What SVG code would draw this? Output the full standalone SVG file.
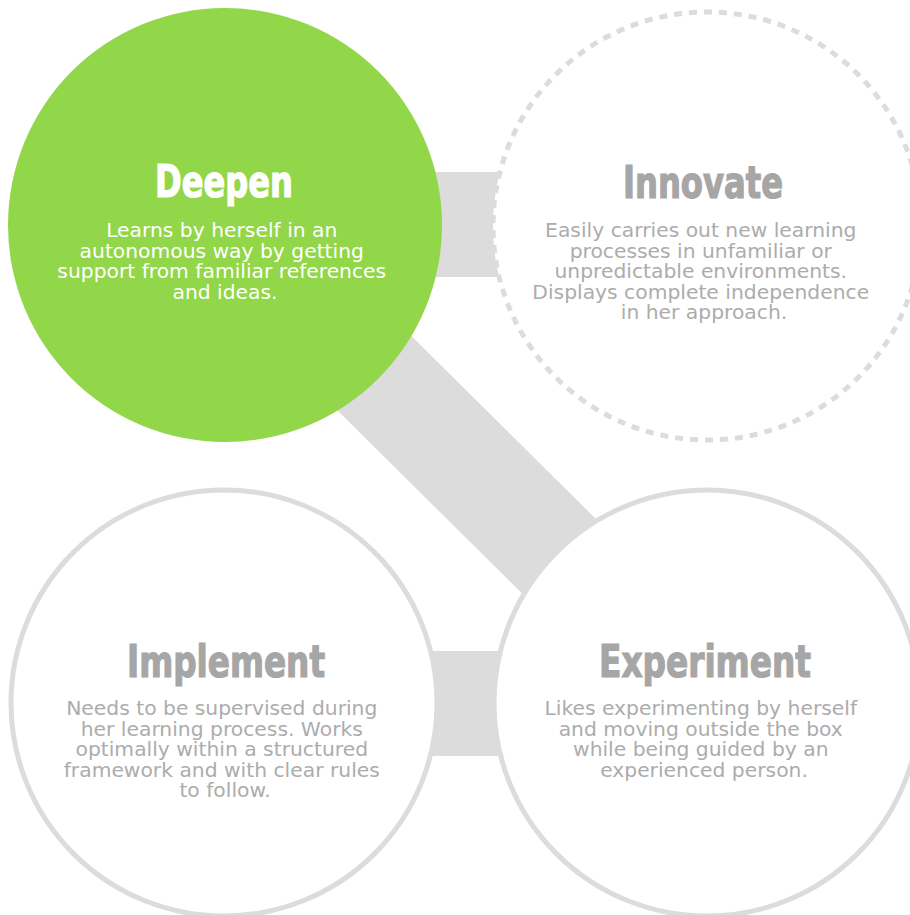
<svg xmlns="http://www.w3.org/2000/svg" width="910" height="915" viewBox="0 0 910 915">
  <style>
    .band { fill: #dcdcdc; }
    .ring { fill: #ffffff; stroke: #dcdcdc; stroke-width: 5; }
    .dashed { fill: #ffffff; stroke: #dcdcdc; stroke-width: 5; stroke-dasharray: 8 7; }
    .active { fill: #92d64a; }
    .title { font-family: "DejaVu Sans Condensed", "Liberation Sans", sans-serif; font-stretch: condensed; font-weight: bold; font-size: 45px; text-anchor: middle; fill: #a6a6a6; stroke: #a6a6a6; stroke-width: 1.2; }
    .body { font-family: "DejaVu Sans", "Liberation Sans", sans-serif; font-size: 20.3px; text-anchor: middle; fill: #acacac; }
    .light { fill: #ffffff; stroke: #ffffff; }
    .lightbody { fill: #ffffff; }
  </style>

  <!-- connectors between the stages -->
  <g id="connectors">
    <rect class="band" x="420" y="172" width="100" height="105"/>
    <rect class="band" x="420" y="651" width="100" height="105"/>
    <polygon class="band" points="262.1,187.9 744.1,665.9 669.9,740.1 187.9,262.1"/>
  </g>

  <g id="deepen">
    <circle class="active" cx="225" cy="225" r="217"/>
    <text class="title light" x="224" y="197" textLength="138" lengthAdjust="spacingAndGlyphs">Deepen</text>
    <text class="body lightbody" x="225">
      <tspan x="225" y="237">Learns by herself in an</tspan>
      <tspan x="225" y="257.5">autonomous way by getting</tspan>
      <tspan x="225" y="278">support from familiar references</tspan>
      <tspan x="225" y="298.5">and ideas.</tspan>
    </text>
  </g>

  <g id="innovate">
    <circle class="dashed" cx="707" cy="226" r="214"/>
    <text class="title" x="703" y="198" textLength="160" lengthAdjust="spacingAndGlyphs">Innovate</text>
    <text class="body" x="704">
      <tspan x="704" y="237">Easily carries out new learning</tspan>
      <tspan x="704" y="257.5">processes in unfamiliar or</tspan>
      <tspan x="704" y="278">unpredictable environments.</tspan>
      <tspan x="704" y="298.5">Displays complete independence</tspan>
      <tspan x="704" y="319">in her approach.</tspan>
    </text>
  </g>

  <g id="implement">
    <circle class="ring" cx="224" cy="703" r="213"/>
    <text class="title" x="226" y="677" textLength="198" lengthAdjust="spacingAndGlyphs">Implement</text>
    <text class="body" x="225">
      <tspan x="225" y="715">Needs to be supervised during</tspan>
      <tspan x="225" y="735.5">her learning process. Works</tspan>
      <tspan x="225" y="756">optimally within a structured</tspan>
      <tspan x="225" y="776.5">framework and with clear rules</tspan>
      <tspan x="225" y="797">to follow.</tspan>
    </text>
  </g>

  <g id="experiment">
    <circle class="ring" cx="707" cy="703" r="213"/>
    <text class="title" x="705" y="677" textLength="212" lengthAdjust="spacingAndGlyphs">Experiment</text>
    <text class="body" x="704">
      <tspan x="704" y="715">Likes experimenting by herself</tspan>
      <tspan x="704" y="735.5">and moving outside the box</tspan>
      <tspan x="704" y="756">while being guided by an</tspan>
      <tspan x="704" y="776.5">experienced person.</tspan>
    </text>
  </g>
</svg>
